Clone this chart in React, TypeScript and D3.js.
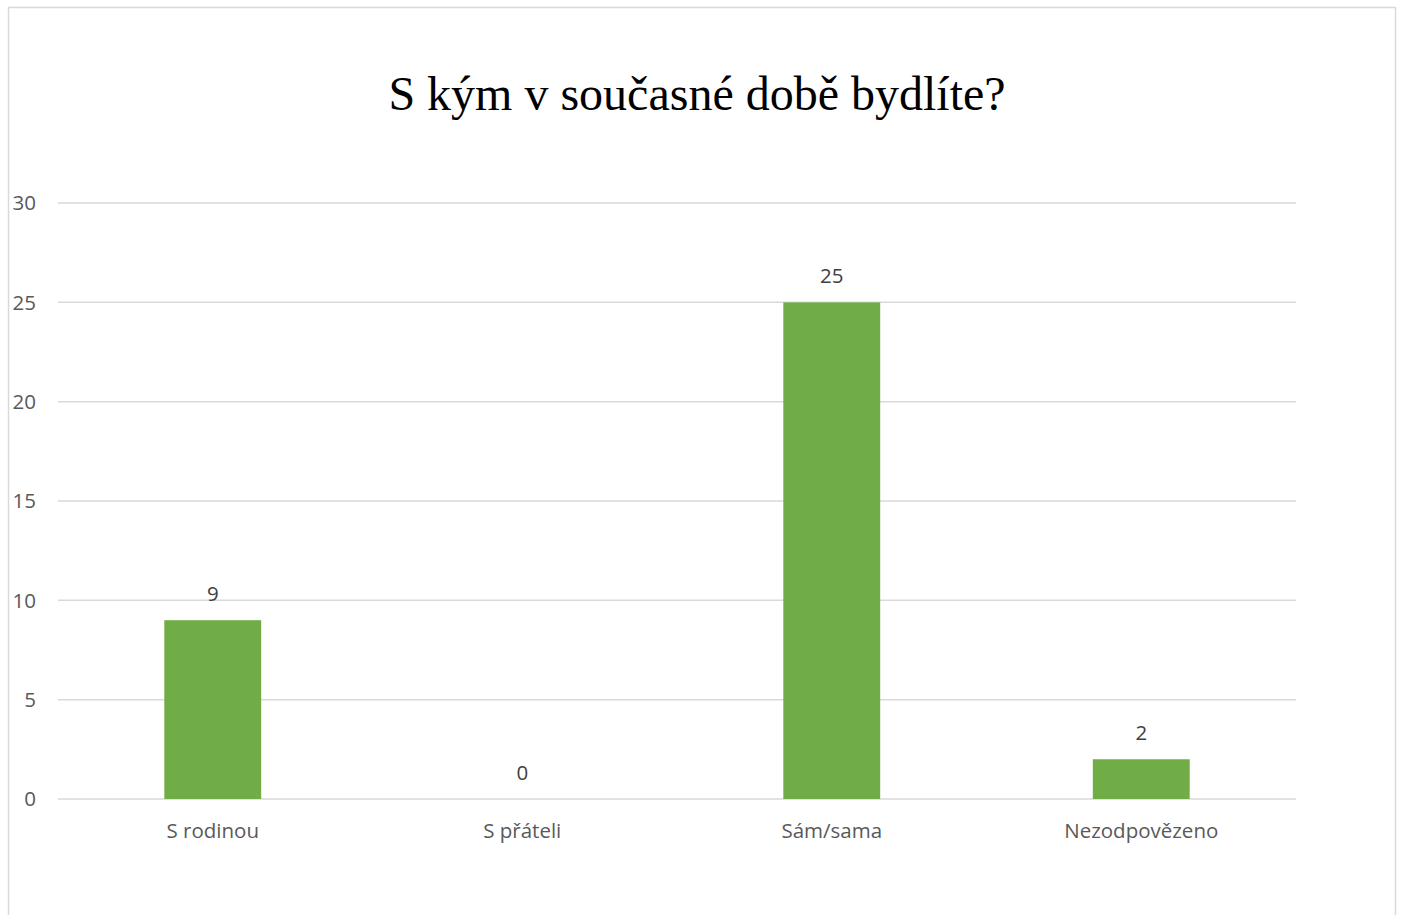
import React, { useEffect, useRef } from 'react';
import * as d3 from 'd3';

const categories = ['S rodinou', 'S přáteli', 'Sám/sama', 'Nezodpovězeno'];
const values = [9, 0, 25, 2];
const yTicks = [0, 5, 10, 15, 20, 25, 30];
const title = 'S kým v současné době bydlíte?';

export default function App() {
  const ref = useRef<SVGSVGElement>(null);

  useEffect(() => {
    const svg = d3.select(ref.current);
    const W = 1403;
    const H = 915;
    const margin = { top: 203, right: 107, bottom: 116, left: 58 };
    const width = W - margin.left - margin.right;
    const height = H - margin.top - margin.bottom;
    const font = "'Open Sans', 'Noto Sans', sans-serif";

    svg.attr('viewBox', [0, 0, W, H]);

    // frame
    svg
      .append('rect')
      .attr('x', 8.5)
      .attr('y', 7.5)
      .attr('width', 1387)
      .attr('height', 920)
      .attr('fill', '#fff')
      .attr('stroke', '#d9d9d9')
      .attr('stroke-width', 1.5);

    svg
      .append('text')
      .attr('x', 697)
      .attr('y', 110)
      .attr('text-anchor', 'middle')
      .attr('font-family', "'Liberation Serif', 'Times New Roman', serif")
      .attr('font-size', 48)
      .attr('fill', '#000')
      .text(title);

    const g = svg.append('g').attr('transform', `translate(${margin.left},${margin.top})`);

    const x = d3.scaleBand().domain(categories).range([0, width]).paddingInner(0.687).paddingOuter(0.3435);
    const y = d3.scaleLinear().domain([0, 30]).range([height, 0]);

    // gridlines
    g.append('g')
      .selectAll('line')
      .data(yTicks)
      .enter()
      .append('line')
      .attr('x1', 0)
      .attr('x2', width)
      .attr('y1', (d) => y(d))
      .attr('y2', (d) => y(d))
      .attr('stroke', '#d9d9d9')
      .attr('stroke-width', 1.5);

    // y tick labels
    g.append('g')
      .selectAll('text')
      .data(yTicks)
      .enter()
      .append('text')
      .attr('x', -22)
      .attr('y', (d) => y(d))
      .attr('dy', '0.36em')
      .attr('text-anchor', 'end')
      .attr('font-family', font)
      .attr('font-size', 20.5)
      .attr('fill', '#595959')
      .text((d) => d);

    // bars
    g.append('g')
      .selectAll('rect')
      .data(values)
      .enter()
      .append('rect')
      .attr('x', (d, i) => x(categories[i])!)
      .attr('y', (d) => y(d))
      .attr('width', x.bandwidth())
      .attr('height', (d) => height - y(d))
      .attr('fill', '#70ad47');

    // value labels
    g.append('g')
      .selectAll('text')
      .data(values)
      .enter()
      .append('text')
      .attr('x', (d, i) => x(categories[i])! + x.bandwidth() / 2)
      .attr('y', (d) => y(d) - 19)
      .attr('text-anchor', 'middle')
      .attr('font-family', font)
      .attr('font-size', 20.5)
      .attr('fill', '#404040')
      .text((d) => d);

    // category labels
    g.append('g')
      .selectAll('text')
      .data(categories)
      .enter()
      .append('text')
      .attr('x', (d) => x(d)! + x.bandwidth() / 2)
      .attr('y', height + 39)
      .attr('text-anchor', 'middle')
      .attr('font-family', font)
      .attr('font-size', 20.5)
      .attr('fill', '#595959')
      .text((d) => d);

    return () => {
      svg.selectAll('*').remove();
    };
  }, []);

  return (
    <svg
      ref={ref}
      width={1403}
      height={915}
      style={{ position: 'absolute', left: 0, top: 0, display: 'block' }}
    />
  );
}
